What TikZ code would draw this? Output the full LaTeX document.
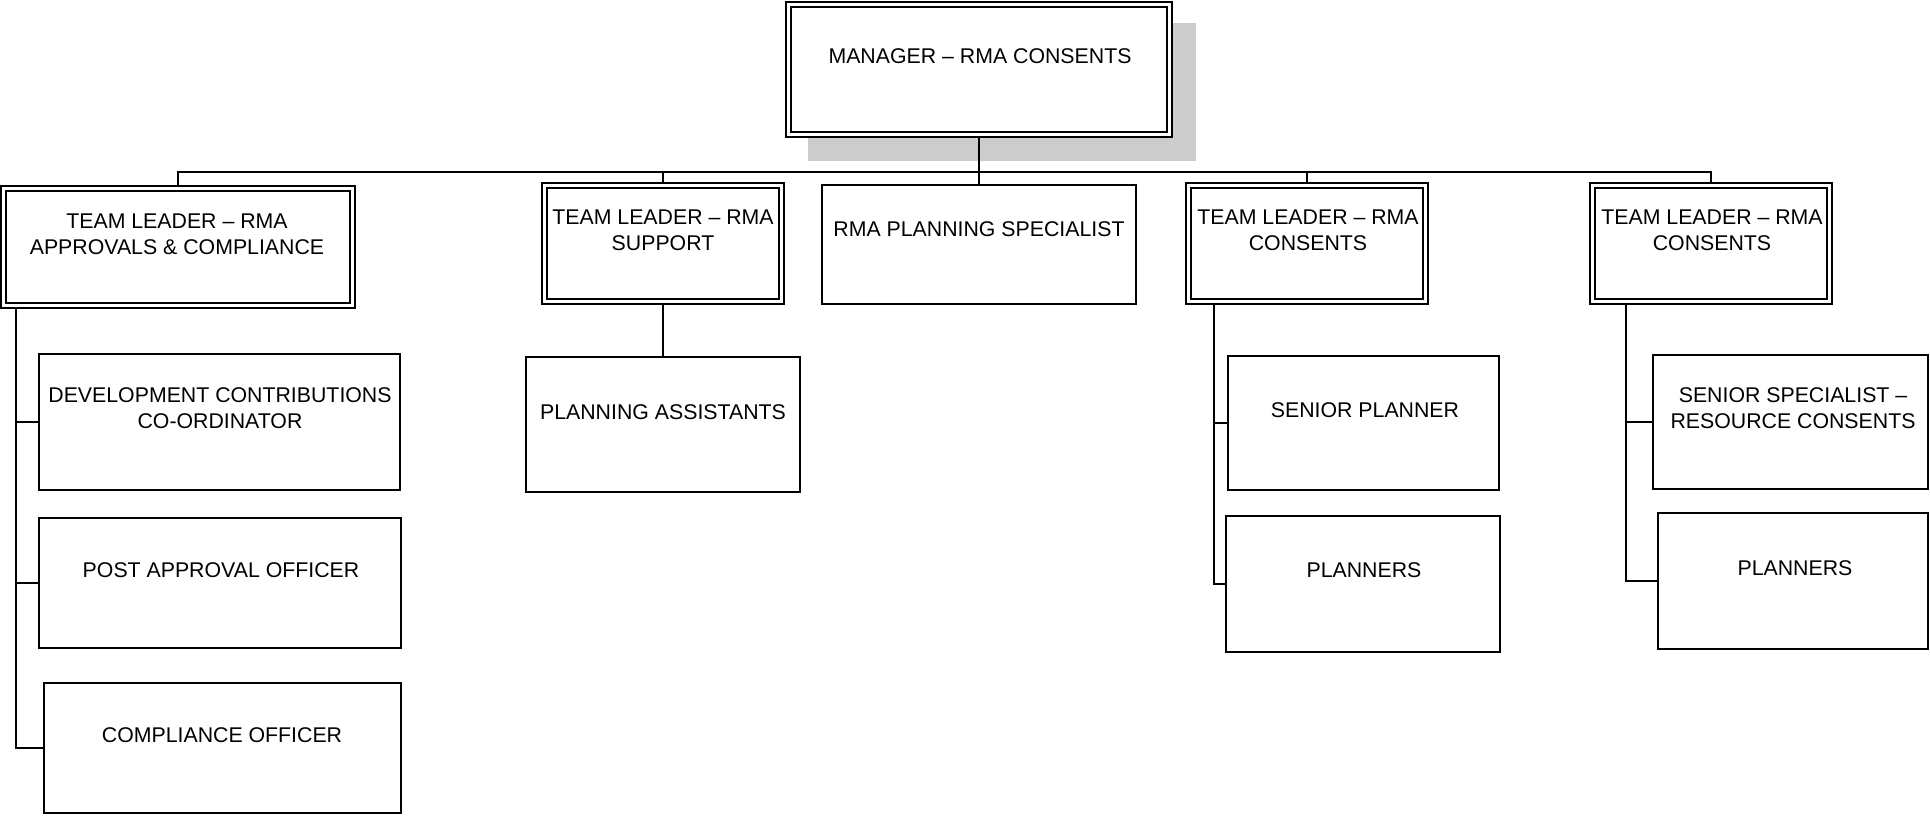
\documentclass[tikz,border=0pt]{standalone}
\usepackage{fontspec}
\setmainfont{Liberation Sans}
\definecolor{shadowgray}{HTML}{CCCCCC}
\begin{document}
\begin{tikzpicture}[x=1pt,y=-1pt,
  box/.style={draw=black, line width=2pt, fill=white, inner sep=0pt, outer sep=0pt},
  dbox/.style={draw=black, line width=2pt, double=white, double distance=3pt, fill=white, inner sep=0pt, outer sep=0pt},
  txt/.style={font=\fontsize{21.3}{26}\selectfont, align=center, inner sep=0pt, outer sep=0pt, anchor=north},
  conn/.style={draw=black, line width=2pt}]
\useasboundingbox (0,0) rectangle (1930,818);
\fill[white] (0,0) rectangle (1930,818);
% shadow of manager box
\node[fill=shadowgray, inner sep=0pt, minimum width=388pt, minimum height=138pt] (msh) at (1002,92) {};
% coordinates for connectors
\coordinate (bus) at (0,172);
\coordinate (t1) at (16,306);
\coordinate (t4) at (1214,302);
\coordinate (t5) at (1626,302);
% boxes (geometry only, drawn after connectors below)
\path
  (979,69.5)    node[minimum width=381pt, minimum height=130pt] (M) {}
  (178,247)     node[minimum width=349pt, minimum height=117pt] (A1) {}
  (663,243.5)   node[minimum width=237pt, minimum height=116pt] (A2) {}
  (979,244.5)   node[minimum width=314pt, minimum height=119pt] (SP) {}
  (1307,243.5)  node[minimum width=237pt, minimum height=116pt] (A4) {}
  (1711,243.5)  node[minimum width=237pt, minimum height=116pt] (A5) {}
  (219.5,422)   node[minimum width=361pt, minimum height=136pt] (DCC) {}
  (220,583)     node[minimum width=362pt, minimum height=130pt] (PAO) {}
  (222.5,748)   node[minimum width=357pt, minimum height=130pt] (CO) {}
  (663,424.5)   node[minimum width=274pt, minimum height=135pt] (PA) {}
  (1363.5,423)  node[minimum width=271pt, minimum height=134pt] (SPL) {}
  (1363,584)    node[minimum width=274pt, minimum height=136pt] (PL4) {}
  (1790.5,422)  node[minimum width=275pt, minimum height=134pt] (SSR) {}
  (1793,581)    node[minimum width=270pt, minimum height=136pt] (PL5) {};
% connectors
\draw[conn] (A1.north) -- (A1.north |- bus) -- (A5.north |- bus) -- (A5.north);
\draw[conn] (A2.north) -- (A2.north |- bus);
\draw[conn] (A4.north) -- (A4.north |- bus);
\draw[conn] (M.south) -- (SP.north);
\draw[conn] (t1) |- (DCC.west);
\draw[conn] (t1) |- (PAO.west);
\draw[conn] (t1) |- (CO.west);
\draw[conn] (A2.south) -- (PA.north);
\draw[conn] (t4) |- (SPL.west);
\draw[conn] (t4) |- (PL4.west);
\draw[conn] (t5) |- (SSR.west);
\draw[conn] (t5) |- (PL5.west);
% visible boxes
\foreach \n in {M,A1,A2,A4,A5}{
  \draw[dbox] (\n.north west) rectangle (\n.south east);
}
\foreach \n in {SP,DCC,PAO,CO,PA,SPL,PL4,SSR,PL5}{
  \draw[box] (\n.north west) rectangle (\n.south east);
}
% texts
\node[txt] (Mt)   at (980,48.7)   {MANAGER – RMA CONSENTS};
\node[txt] (A1t)  at (177,213.7)  {TEAM LEADER – RMA\\APPROVALS \& COMPLIANCE};
\node[txt] (A2t)  at (663,209.7)  {TEAM LEADER – RMA\\SUPPORT};
\node[txt] (SPt)  at (979,221.7)  {RMA PLANNING SPECIALIST};
\node[txt] (A4t)  at (1308,209.7) {TEAM LEADER – RMA\\CONSENTS};
\node[txt] (A5t)  at (1712,209.7) {TEAM LEADER – RMA\\CONSENTS};
\node[txt] (DCCt) at (220,387.7)  {DEVELOPMENT CONTRIBUTIONS\\CO-ORDINATOR};
\node[txt] (PAOt) at (221,562.7)  {POST APPROVAL OFFICER};
\node[txt] (COt)  at (222,727.7)  {COMPLIANCE OFFICER};
\node[txt] (PAt)  at (663,404.7)  {PLANNING ASSISTANTS};
\node[txt] (SPLt) at (1365,402.7) {SENIOR PLANNER};
\node[txt] (PL4t) at (1364,562.7) {PLANNERS};
\node[txt] (SSRt) at (1793,387.7) {SENIOR SPECIALIST –\\RESOURCE CONSENTS};
\node[txt] (PL5t) at (1795,560.7) {PLANNERS};
\end{tikzpicture}
\end{document}
